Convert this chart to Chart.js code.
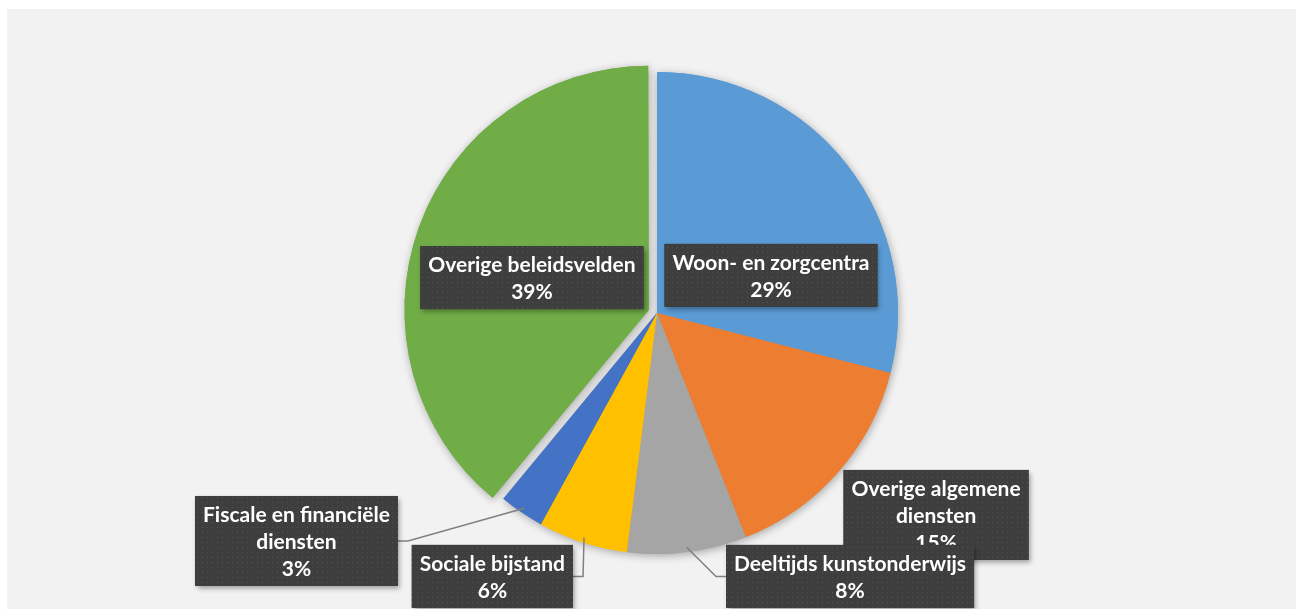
<!DOCTYPE html>
<html><head><meta charset="utf-8">
<script src="https://cdn.jsdelivr.net/npm/chart.js@4.4.1/dist/chart.umd.min.js"></script>
<style>html,body{margin:0;padding:0;background:#fff;}canvas{display:block;}</style>
</head><body>
<canvas id="c" width="1296" height="609"></canvas>
<script>
// ---- data ----
const categories = ['Woon- en zorgcentra','Overige algemene diensten','Deeltijds kunstonderwijs','Sociale bijstand','Fiscale en financiële diensten','Overige beleidsvelden'];
const labelLines = [['Woon- en zorgcentra'],['Overige algemene','diensten'],['Deeltijds kunstonderwijs'],['Sociale bijstand'],['Fiscale en financiële','diensten'],['Overige beleidsvelden']];
const shares = [29, 15, 8, 6, 3, 39];
const sliceColors = ['#5B9BD5','#ED7D31','#A5A5A5','#FFC000','#4472C4','#70AD47'];
const explode = [0, 0, 0, 0, 0, 12];   // px the slice is pulled out

// label placement relative to pie centre, in units of radius
const labelPlacement = [
  {dx: 0.473, dy:-0.156},
  {dx: 1.158, dy: 0.838},
  {dx: 0.801, dy: 1.093, leader:'left'},
  {dx:-0.683, dy: 1.093, leader:'right'},
  {dx:-1.496, dy: 0.946, leader:'right'},
  {dx:-0.519, dy:-0.147}
];

const FONT = 'bold 21px Lato';
const LINE_H = 27, PAD_X = 8, PAD_Y = 4.5;

function makePattern(ctx){
  const p = document.createElement('canvas'); p.width = 5; p.height = 5;
  const g = p.getContext('2d');
  g.fillStyle = '#3e3e3e'; g.fillRect(0,0,5,5);
  g.fillStyle = '#535353'; g.fillRect(2,2,1,1);
  return ctx.createPattern(p,'repeat');
}

const bgPlugin = {
  id:'bg',
  beforeDraw(chart){
    const ctx = chart.ctx;
    ctx.save();
    ctx.fillStyle = '#ffffff'; ctx.fillRect(0,0,chart.width,chart.height);
    ctx.fillStyle = '#f2f2f2'; ctx.fillRect(7,9,chart.width-7,chart.height-9);
    ctx.restore();
  },
  beforeDatasetsDraw(chart){
    const ctx = chart.ctx;
    const meta = chart.getDatasetMeta(0);
    ctx.save();
    ctx.shadowColor = 'rgba(0,0,0,0.32)';
    ctx.shadowBlur = 9;
    ctx.shadowOffsetX = 1;
    ctx.shadowOffsetY = 2;
    meta.data.forEach(a => a.draw(ctx));
    ctx.restore();
  }
};

const labelPlugin = {
  id:'boxLabels',
  afterDatasetsDraw(chart){
    const ctx = chart.ctx;
    const meta = chart.getDatasetMeta(0);
    const total = shares.reduce((s,v)=>s+v,0);
    const pattern = makePattern(ctx);
    ctx.save();
    ctx.font = FONT;
    const boxes = meta.data.map((arc,i) => {
      const p = labelPlacement[i];
      const r = arc.outerRadius;
      const lines = labelLines[i].concat([Math.round(shares[i]/total*100)+'%']);
      const w = Math.max(...lines.map(t=>ctx.measureText(t).width)) + 2*PAD_X;
      const h = lines.length*LINE_H + 2*PAD_Y;
      const cx = arc.x + p.dx*r, cy = arc.y + p.dy*r;
      return {arc, p, lines, x:cx-w/2, y:cy-h/2, w, h, cx, cy};
    });
    // leader lines
    ctx.strokeStyle = '#808080'; ctx.lineWidth = 1.5;
    boxes.forEach(b => {
      if(!b.p.leader) return;
      const a = b.arc;
      const mid = (a.startAngle + a.endAngle)/2;
      const ex = a.x + Math.cos(mid)*a.outerRadius*0.98;
      const ey = a.y + Math.sin(mid)*a.outerRadius*0.98;
      const sx = b.p.leader === 'right' ? b.x + b.w : b.x;
      const dir = b.p.leader === 'right' ? 1 : -1;
      ctx.beginPath();
      ctx.moveTo(sx, b.cy);
      ctx.lineTo(sx + dir*10, b.cy);
      ctx.lineTo(ex, ey);
      ctx.stroke();
    });
    // boxes
    boxes.forEach(b => {
      ctx.save();
      ctx.shadowColor = 'rgba(0,0,0,0.35)';
      ctx.shadowBlur = 5; ctx.shadowOffsetX = 2; ctx.shadowOffsetY = 3;
      ctx.fillStyle = '#3e3e3e';
      ctx.fillRect(b.x, b.y, b.w, b.h);
      ctx.restore();
      ctx.fillStyle = pattern;
      ctx.fillRect(b.x, b.y, b.w, b.h);
      ctx.fillStyle = '#ffffff';
      ctx.textAlign = 'center'; ctx.textBaseline = 'middle';
      b.lines.forEach((t,k) => {
        ctx.fillText(t, b.cx, b.y + PAD_Y + LINE_H*(k+0.5) + 1);
      });
    });
    ctx.restore();
  }
};

function build(){
  new Chart(document.getElementById('c'), {
    type:'pie',
    data:{
      labels: categories,
      datasets:[{
        data: shares,
        backgroundColor: sliceColors,
        borderWidth: 0,
        offset: (ctx) => {
          const i = ctx.dataIndex;
          const circ = shares[i]/shares.reduce((s,v)=>s+v,0)*Math.PI*2;
          const fix = 1 - Math.sin(Math.min(Math.PI, circ));
          return explode[i]*4/(1+fix);
        }
      }]
    },
    options:{
      responsive:false, animation:false, devicePixelRatio:1,
      radius: 241,
      layout:{padding:{left:18, top:17, right:0, bottom:0}},
      plugins:{legend:{display:false}, tooltip:{enabled:false}}
    },
    plugins:[bgPlugin, labelPlugin]
  });
}
if (document.fonts && document.fonts.load) {
  document.fonts.load(FONT).then(build, build);
} else build();
</script>
</body></html>
